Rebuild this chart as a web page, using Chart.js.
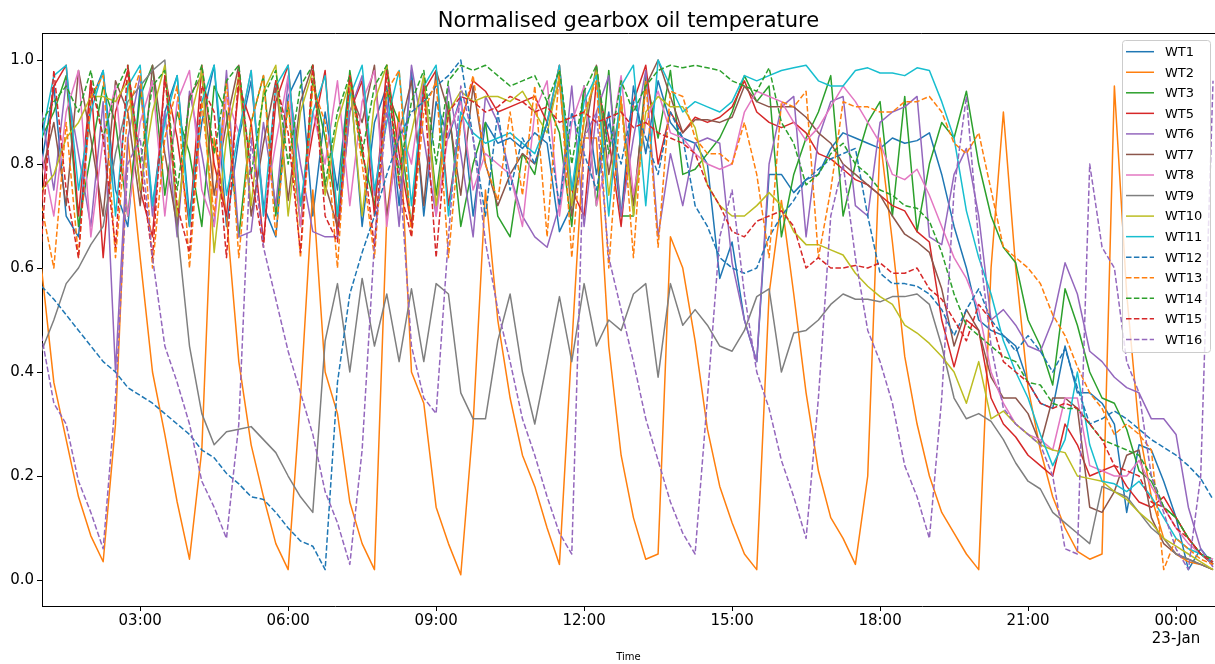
<!DOCTYPE html>
<html>
<head>
<meta charset="utf-8">
<script src="https://cdn.jsdelivr.net/npm/chart.js@4.4.0/dist/chart.umd.min.js"></script>
<style>
  html, body { margin: 0; padding: 0; background: #fff; }
  #wrap { width: 1215px; height: 664px; }
</style>
</head>
<body>
<div id="wrap"><canvas id="chart" width="1215" height="664"></canvas></div>
<script>
// sample times, 22-Jan 01:00 to 23-Jan 00:45, every 15 min
const times = [
  '01:00','01:15','01:30','01:45','02:00','02:15','02:30','02:45',
  '03:00','03:15','03:30','03:45','04:00','04:15','04:30','04:45',
  '05:00','05:15','05:30','05:45','06:00','06:15','06:30','06:45',
  '07:00','07:15','07:30','07:45','08:00','08:15','08:30','08:45',
  '09:00','09:15','09:30','09:45','10:00','10:15','10:30','10:45',
  '11:00','11:15','11:30','11:45','12:00','12:15','12:30','12:45',
  '13:00','13:15','13:30','13:45','14:00','14:15','14:30','14:45',
  '15:00','15:15','15:30','15:45','16:00','16:15','16:30','16:45',
  '17:00','17:15','17:30','17:45','18:00','18:15','18:30','18:45',
  '19:00','19:15','19:30','19:45','20:00','20:15','20:30','20:45',
  '21:00','21:15','21:30','21:45','22:00','22:15','22:30','22:45',
  '23:00','23:15','23:30','23:45','00:00','00:15','00:30','00:45'
];

const turbines = ['WT1','WT2','WT3','WT5','WT6','WT7','WT8','WT9','WT10','WT11','WT12','WT13','WT14','WT15','WT16'];

const wt1 = [
  0.80,0.95,0.70,0.66,0.92,0.98,0.75,0.68, 0.95,0.72,0.90,0.97,0.70,0.88,0.99,0.68,
  0.85,0.96,0.72,0.66,0.93,0.98,0.70,0.90, 0.75,0.97,0.68,0.88,0.95,0.72,0.98,0.70,
  0.92,0.85,0.93,0.70,0.88,0.84,0.85,0.83, 0.86,0.84,0.67,0.72,0.95,0.78,0.90,0.70,
  0.95,0.82,0.96,0.88,0.85,0.84,0.80,0.58, 0.65,0.50,0.42,0.78,0.78,0.745,0.77,0.78,
  0.83,0.86,0.85,0.84,0.83,0.85,0.84,0.845, 0.86,0.78,0.68,0.60,0.50,0.48,0.47,0.45,
  0.38,0.34,0.33,0.45,0.36,0.36,0.34,0.30, 0.13,0.26,0.25,0.19,0.12,0.02,0.06,0.03
];
const wt2 = [
  0.60,0.38,0.27,0.16,0.085,0.035,0.30,0.85, 0.62,0.40,0.28,0.15,0.04,0.25,0.85,0.70,
  0.42,0.26,0.16,0.07,0.02,0.35,0.75,0.40, 0.32,0.15,0.07,0.02,0.70,0.90,0.40,0.34,
  0.14,0.07,0.01,0.30,0.75,0.50,0.35,0.24, 0.18,0.10,0.03,0.45,0.85,0.85,0.45,0.24,
  0.12,0.04,0.05,0.66,0.60,0.46,0.29,0.18, 0.11,0.05,0.02,0.55,0.73,0.55,0.36,0.21,
  0.12,0.08,0.03,0.20,0.85,0.65,0.43,0.30, 0.20,0.13,0.09,0.05,0.02,0.60,0.90,0.60,
  0.37,0.25,0.16,0.10,0.055,0.04,0.05,0.95, 0.55,0.29,0.16,0.08,0.05,0.035,0.03,0.02
];
const wt3 = [
  0.85,0.90,0.97,0.68,0.82,0.95,0.88,0.70, 0.93,0.99,0.74,0.90,0.82,0.68,0.95,0.90,
  0.66,0.88,0.97,0.70,0.92,0.68,0.96,0.85, 0.70,0.98,0.82,0.72,0.94,0.88,0.68,0.96,
  0.74,0.92,0.68,0.80,0.88,0.70,0.66,0.82, 0.78,0.92,0.86,0.68,0.95,0.72,0.98,0.70,
  0.70,0.97,0.85,0.98,0.78,0.79,0.82,0.85, 0.90,0.97,0.92,0.95,0.66,0.78,0.85,0.90,
  0.97,0.70,0.80,0.88,0.92,0.70,0.93,0.67, 0.80,0.88,0.85,0.94,0.80,0.70,0.64,0.61,
  0.50,0.45,0.375,0.56,0.49,0.40,0.35,0.34, 0.29,0.21,0.19,0.14,0.12,0.08,0.05,0.03
];
const wt5 = [
  0.72,0.95,0.99,0.70,0.96,0.62,0.90,0.98, 0.75,0.66,0.97,0.85,0.68,0.99,0.80,0.70,
  0.95,0.88,0.65,0.92,0.99,0.72,0.86,0.98, 0.66,0.90,0.96,0.70,0.99,0.82,0.68,0.94,
  0.98,0.72,0.88,0.96,0.94,0.90,0.91,0.92, 0.93,0.88,0.99,0.75,0.70,0.96,0.85,0.68,
  0.92,0.99,0.80,0.90,0.86,0.89,0.88,0.89, 0.91,0.96,0.90,0.88,0.87,0.88,0.86,0.82,
  0.81,0.79,0.77,0.76,0.74,0.72,0.71,0.67, 0.65,0.50,0.41,0.50,0.48,0.35,0.30,0.275,
  0.24,0.22,0.20,0.30,0.26,0.20,0.21,0.22, 0.18,0.15,0.14,0.16,0.12,0.08,0.05,0.03
];
const wt6 = [
  0.90,0.75,0.96,0.82,0.68,0.92,0.40,0.85, 0.97,0.70,0.90,0.66,0.94,0.82,0.68,0.98,
  0.66,0.67,0.88,0.72,0.96,0.80,0.67,0.66, 0.66,0.90,0.97,0.74,0.92,0.68,0.99,0.85,
  0.70,0.95,0.82,0.66,0.93,0.88,0.78,0.70, 0.66,0.64,0.72,0.95,0.68,0.90,0.97,0.70,
  0.85,0.98,0.66,0.82,0.72,0.84,0.85,0.84, 0.61,0.50,0.42,0.80,0.91,0.93,0.66,0.85,
  0.92,0.93,0.72,0.70,0.88,0.90,0.91,0.93, 0.66,0.645,0.78,0.83,0.70,0.50,0.52,0.49,
  0.45,0.44,0.50,0.61,0.55,0.44,0.42,0.39, 0.37,0.36,0.31,0.31,0.28,0.14,0.06,0.025
];
const wt7 = [
  0.78,0.88,0.72,0.98,0.85,0.70,0.96,0.90, 0.72,0.99,0.82,0.68,0.93,0.97,0.74,0.88,
  0.99,0.70,0.84,0.96,0.73,0.92,0.99,0.76, 0.68,0.94,0.88,0.99,0.70,0.86,0.96,0.72,
  0.98,0.90,0.74,0.95,0.80,0.72,0.78,0.82, 0.80,0.88,0.96,0.70,0.85,0.99,0.78,0.92,
  0.72,0.95,1.00,0.93,0.86,0.885,0.885,0.88, 0.89,0.95,0.92,0.91,0.91,0.91,0.89,0.86,
  0.84,0.80,0.78,0.76,0.74,0.70,0.665,0.65, 0.63,0.56,0.45,0.52,0.48,0.39,0.35,0.35,
  0.32,0.26,0.35,0.35,0.33,0.14,0.13,0.17, 0.24,0.25,0.12,0.07,0.05,0.04,0.03,0.02
];
const wt8 = [
  0.82,0.70,0.90,0.98,0.66,0.85,0.95,0.70, 0.88,0.96,0.70,0.92,0.98,0.75,0.68,0.93,
  0.86,0.98,0.70,0.84,0.97,0.68,0.90,0.80, 0.96,0.72,0.92,0.98,0.68,0.88,0.80,0.97,
  0.70,0.86,0.92,0.75,0.82,0.80,0.78,0.68, 0.90,0.96,0.70,0.88,0.95,0.72,0.82,0.97,
  0.74,0.88,0.94,0.86,0.85,0.82,0.80,0.79, 0.80,0.90,0.94,0.93,0.92,0.88,0.845,0.87,
  0.91,0.95,0.92,0.88,0.84,0.78,0.77,0.79, 0.74,0.68,0.62,0.58,0.52,0.40,0.34,0.30,
  0.28,0.27,0.25,0.35,0.35,0.22,0.21,0.20, 0.20,0.23,0.18,0.14,0.10,0.07,0.05,0.04
];
const wt9 = [
  0.44,0.50,0.57,0.60,0.645,0.68,0.82,0.92, 0.95,0.98,1.00,0.68,0.45,0.32,0.26,0.285,
  0.29,0.295,0.27,0.245,0.20,0.16,0.13,0.46, 0.57,0.40,0.58,0.45,0.55,0.42,0.56,0.42,
  0.57,0.55,0.36,0.31,0.31,0.46,0.55,0.40, 0.30,0.42,0.545,0.42,0.57,0.45,0.50,0.48,
  0.55,0.57,0.39,0.57,0.49,0.52,0.49,0.45, 0.44,0.48,0.545,0.56,0.40,0.475,0.48,0.50,
  0.53,0.55,0.54,0.54,0.535,0.545,0.545,0.55, 0.53,0.45,0.35,0.31,0.32,0.305,0.27,0.225,
  0.19,0.175,0.13,0.11,0.09,0.07,0.18,0.17, 0.16,0.13,0.10,0.08,0.05,0.04,0.03,0.02
];
const wt10 = [
  0.75,0.78,0.85,0.88,0.93,0.93,0.92,0.96, 0.75,0.90,0.99,0.70,0.88,0.98,0.63,0.85,
  0.97,0.72,0.94,0.99,0.70,0.90,0.98,0.74, 0.88,0.96,0.70,0.92,0.99,0.76,0.86,0.97,
  0.72,0.90,0.94,0.92,0.93,0.93,0.92,0.94, 0.90,0.86,0.97,0.72,0.88,0.98,0.74,0.92,
  0.70,0.90,0.93,0.91,0.91,0.87,0.76,0.72, 0.70,0.70,0.72,0.745,0.72,0.67,0.645,0.645,
  0.635,0.625,0.59,0.565,0.545,0.53,0.49,0.475, 0.455,0.43,0.40,0.34,0.42,0.31,0.325,0.30,
  0.28,0.26,0.25,0.245,0.20,0.195,0.19,0.17, 0.155,0.13,0.11,0.08,0.065,0.05,0.035,0.02
];
const wt11 = [
  0.85,0.97,0.99,0.75,0.90,0.98,0.70,0.95, 0.99,0.72,0.88,0.97,0.68,0.92,0.99,0.74,
  0.86,0.98,0.70,0.95,0.99,0.72,0.90,0.97, 0.70,0.93,0.99,0.75,0.88,0.98,0.72,0.95,
  0.99,0.70,0.90,0.86,0.84,0.85,0.86,0.84, 0.82,0.88,0.99,0.75,0.92,0.97,0.70,0.95,
  0.99,0.72,1.00,0.95,0.90,0.92,0.91,0.90, 0.92,0.97,0.96,0.97,0.98,0.985,0.99,0.96,
  0.95,0.95,0.98,0.985,0.975,0.975,0.97,0.985, 0.98,0.92,0.85,0.71,0.62,0.55,0.46,0.40,
  0.35,0.28,0.22,0.27,0.40,0.26,0.19,0.185, 0.17,0.19,0.16,0.12,0.08,0.06,0.05,0.035
];
const wt12 = [
  0.565,0.54,0.51,0.48,0.45,0.42,0.40,0.37, 0.355,0.34,0.32,0.30,0.28,0.25,0.235,0.205,
  0.185,0.16,0.155,0.13,0.10,0.075,0.065,0.02, 0.38,0.55,0.63,0.70,0.78,0.85,0.90,0.92,
  0.95,0.97,1.00,0.85,0.70,0.90,0.75,0.85, 0.80,0.88,0.72,0.90,0.82,0.75,0.88,0.80,
  0.92,0.85,0.78,0.90,0.85,0.72,0.68,0.62, 0.60,0.59,0.60,0.66,0.70,0.73,0.77,0.79,
  0.81,0.82,0.83,0.70,0.59,0.57,0.57,0.565, 0.55,0.52,0.47,0.52,0.56,0.50,0.47,0.44,
  0.47,0.44,0.40,0.445,0.37,0.30,0.31,0.325, 0.31,0.29,0.27,0.255,0.24,0.22,0.195,0.155
];
const wt13 = [
  0.72,0.60,0.88,0.62,0.93,0.97,0.62,0.90, 0.98,0.60,0.85,0.95,0.60,0.92,0.70,0.96,
  0.62,0.88,0.97,0.66,0.92,0.62,0.95,0.88, 0.60,0.97,0.80,0.62,0.94,0.98,0.66,0.90,
  0.96,0.62,0.88,0.97,0.80,0.73,0.90,0.74, 0.95,0.66,0.98,0.62,0.90,0.96,0.60,0.93,
  0.62,0.96,0.64,0.94,0.93,0.85,0.82,0.82, 0.80,0.88,0.78,0.62,0.92,0.91,0.94,0.62,
  0.75,0.92,0.91,0.91,0.90,0.90,0.92,0.92, 0.93,0.90,0.84,0.82,0.86,0.75,0.64,0.62,
  0.60,0.57,0.51,0.47,0.41,0.36,0.33,0.28, 0.30,0.28,0.25,0.02,0.08,0.06,0.04,0.03
];
const wt14 = [
  0.88,0.92,0.95,0.90,0.98,0.85,0.94,0.99, 0.80,0.95,0.98,0.75,0.92,0.99,0.82,0.96,
  0.99,0.78,0.93,0.98,0.80,0.95,0.99,0.76, 0.90,0.97,0.82,0.95,0.99,0.78,0.92,0.98,
  0.80,0.96,0.99,0.98,0.99,0.97,0.95,0.96, 0.97,0.92,0.98,0.80,0.94,0.99,0.82,0.96,
  0.90,0.95,0.98,0.99,0.985,0.99,0.985,0.98, 0.96,0.95,0.94,0.985,0.88,0.84,0.76,0.78,
  0.82,0.84,0.80,0.78,0.75,0.74,0.72,0.715, 0.69,0.63,0.55,0.49,0.47,0.45,0.43,0.42,
  0.38,0.375,0.34,0.33,0.33,0.30,0.27,0.26, 0.25,0.24,0.20,0.14,0.12,0.08,0.05,0.04
];
const wt15 = [
  0.65,0.98,0.75,0.62,0.96,0.85,0.64,0.99, 0.80,0.62,0.97,0.72,0.63,0.95,0.90,0.62,
  0.98,0.78,0.64,0.96,0.86,0.63,0.99,0.70, 0.65,0.97,0.84,0.64,0.98,0.76,0.66,0.95,
  0.62,0.90,0.93,0.92,0.90,0.91,0.93,0.92, 0.90,0.91,0.88,0.89,0.90,0.88,0.89,0.90,
  0.87,0.88,0.86,0.85,0.84,0.82,0.76,0.72, 0.67,0.66,0.69,0.70,0.71,0.68,0.60,0.62,
  0.60,0.60,0.605,0.60,0.61,0.59,0.59,0.60, 0.56,0.54,0.50,0.46,0.53,0.50,0.42,0.40,
  0.38,0.34,0.33,0.34,0.33,0.30,0.27,0.22, 0.21,0.20,0.15,0.14,0.10,0.08,0.05,0.035
];
const wt16 = [
  0.47,0.34,0.30,0.19,0.13,0.06,0.35,0.80, 0.85,0.62,0.45,0.38,0.30,0.19,0.14,0.08,
  0.30,0.85,0.64,0.54,0.44,0.36,0.28,0.17, 0.11,0.03,0.25,0.65,0.90,0.80,0.45,0.35,
  0.32,0.66,0.95,0.85,0.65,0.52,0.42,0.31, 0.24,0.16,0.09,0.05,0.85,0.90,0.62,0.52,
  0.42,0.31,0.23,0.15,0.09,0.05,0.35,0.66, 0.75,0.55,0.40,0.33,0.23,0.16,0.08,0.35,
  0.70,0.80,0.62,0.48,0.42,0.34,0.22,0.16, 0.08,0.35,0.75,0.93,0.65,0.45,0.33,0.30,
  0.28,0.26,0.20,0.06,0.05,0.80,0.64,0.60, 0.42,0.36,0.20,0.13,0.06,0.02,0.20,0.96
];

const seriesValues = [wt1, wt2, wt3, wt5, wt6, wt7, wt8, wt9, wt10, wt11, wt12, wt13, wt14, wt15, wt16];

// x axis: hours since 22-Jan 00:00
const xTickHours = [3, 6, 9, 12, 15, 18, 21, 24];
const xTickLabels = ['03:00', '06:00', '09:00', '12:00', '15:00', '18:00', '21:00', ['00:00', '23-Jan']];
const yTickValues = [0.0, 0.2, 0.4, 0.6, 0.8, 1.0];

const palette = ['#1f77b4','#ff7f0e','#2ca02c','#d62728','#9467bd','#8c564b','#e377c2','#7f7f7f','#bcbd22','#17becf',
                 '#1f77b4','#ff7f0e','#2ca02c','#d62728','#9467bd'];
const dashed = [false,false,false,false,false,false,false,false,false,false,true,true,true,true,true];
const dashPattern = [5.5, 2.4];
const FONT = 'DejaVu Sans';

function toHours(list) {
  let day = 0, prev = -1;
  return list.map(s => {
    const [hh, mm] = s.split(':').map(Number);
    let h = hh + mm / 60 + day;
    if (h < prev) { day += 24; h += 24; }
    prev = h;
    return h;
  });
}
const hours = toHours(times);

const datasets = turbines.map((name, i) => ({
  label: name,
  data: hours.map((h, k) => ({ x: h, y: seriesValues[i][k] })),
  borderColor: palette[i],
  borderWidth: 1.5,
  borderDash: dashed[i] ? dashPattern : [],
  borderJoinStyle: 'round',
  pointRadius: 0,
  tension: 0,
  fill: false,
  order: turbines.length - i
}));

const decorations = {
  id: 'decorations',
  afterDraw(chart) {
    const { ctx, chartArea } = chart;
    ctx.save();
    // top spine
    ctx.strokeStyle = '#000';
    ctx.lineWidth = 1;
    ctx.beginPath();
    ctx.moveTo(chartArea.left, chartArea.top + 0.5);
    ctx.lineTo(chartArea.right, chartArea.top + 0.5);
    ctx.stroke();

    // title
    ctx.fillStyle = '#000';
    ctx.font = '21px "' + FONT + '"';
    ctx.textAlign = 'center';
    ctx.textBaseline = 'alphabetic';
    ctx.fillText('Normalised gearbox oil temperature', (chartArea.left + chartArea.right) / 2, 27);

    // legend
    const bx = 1122, by = 40, bw = 88, bh = 312;
    ctx.beginPath();
    ctx.roundRect(bx + 0.5, by + 0.5, bw, bh, 3);
    ctx.fillStyle = 'rgba(255,255,255,0.8)';
    ctx.fill();
    ctx.strokeStyle = '#cccccc';
    ctx.lineWidth = 1;
    ctx.stroke();
    ctx.font = '13px "' + FONT + '"';
    ctx.textAlign = 'left';
    ctx.textBaseline = 'middle';
    turbines.forEach((name, i) => {
      const y = 51.7 + i * 20.55;
      ctx.beginPath();
      ctx.setLineDash(dashed[i] ? dashPattern : []);
      ctx.strokeStyle = palette[i];
      ctx.lineWidth = 1.5;
      ctx.moveTo(1126, y);
      ctx.lineTo(1154, y);
      ctx.stroke();
      ctx.setLineDash([]);
      ctx.fillStyle = '#000';
      ctx.fillText(name, 1165, y + 1);
    });
    ctx.restore();
  }
};

new Chart(document.getElementById('chart'), {
  type: 'line',
  data: { datasets },
  options: {
    responsive: false,
    animation: false,
    devicePixelRatio: 1,
    layout: { padding: { top: 33, left: 0, right: 0, bottom: 0 } },
    plugins: {
      legend: { display: false },
      tooltip: { enabled: false },
      title: { display: false }
    },
    scales: {
      x: {
        type: 'linear',
        min: 1.01,
        max: 24.79,
        afterBuildTicks: s => { s.ticks = xTickHours.map(v => ({ value: v })); },
        afterFit: s => { s.height = 58; },
        grid: { drawOnChartArea: false, drawTicks: true, tickLength: 5, tickColor: '#000', tickWidth: 1 },
        border: { display: true, color: '#000', width: 1 },
        ticks: {
          color: '#000',
          font: { family: FONT, size: 15 },
          padding: 1,
          maxRotation: 0,
          autoSkip: false,
          callback: v => xTickLabels[xTickHours.indexOf(v)]
        },
        title: { display: true, text: 'Time', color: '#000', font: { family: FONT, size: 10 }, padding: { top: 0, bottom: 1 } }
      },
      y: {
        min: -0.05,
        max: 1.052,
        afterBuildTicks: s => { s.ticks = yTickValues.map(v => ({ value: v })); },
        afterFit: s => { s.width = 42; },
        grid: { drawOnChartArea: false, drawTicks: true, tickLength: 5, tickColor: '#000', tickWidth: 1 },
        border: { display: true, color: '#000', width: 1 },
        ticks: {
          color: '#000',
          font: { family: FONT, size: 15 },
          padding: 3,
          callback: v => v.toFixed(1)
        }
      }
    }
  },
  plugins: [decorations]
});
</script>
</body>
</html>
